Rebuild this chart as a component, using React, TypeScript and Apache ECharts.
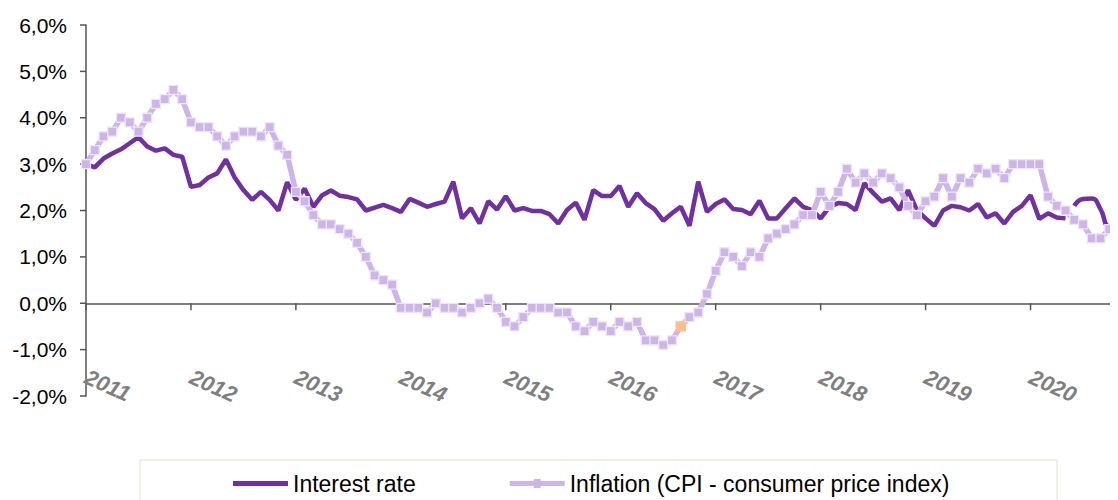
import React, { useEffect, useRef } from "react";
import * as echarts from "echarts";

const years = ["2011", "2012", "2013", "2014", "2015", "2016", "2017", "2018", "2019", "2020"];
const months = ["01", "02", "03", "04", "05", "06", "07", "08", "09", "10", "11", "12"];
const categories = years.flatMap((y) => months.map((m) => `${y}-${m}`)).slice(0, 119);
const yTicks = [-2, -1, 0, 1, 2, 3, 4, 5, 6];

// Interest rate (%), Jan 2011 .. May 2020
const interestRate = [
  3.0, 2.93, 3.12, 3.23, 3.32, 3.45, 3.58, 3.38, 3.29, 3.34, 3.2, 3.16,
  2.51, 2.55, 2.71, 2.8, 3.1, 2.71, 2.44, 2.23, 2.4, 2.23, 2.0, 2.61,
  2.23, 2.47, 2.08, 2.33, 2.43, 2.32, 2.29, 2.24, 2.0, 2.06, 2.12, 2.05,
  1.97, 2.25, 2.17, 2.08, 2.14, 2.19, 2.62, 1.83, 2.05, 1.72, 2.2, 2.02,
  2.31, 2.0, 2.05, 1.99, 1.99, 1.92, 1.72, 2.01, 2.17, 1.8, 2.44, 2.31,
  2.31, 2.53, 2.08, 2.37, 2.16, 2.03, 1.78, 1.94, 2.08, 1.67, 2.62, 1.97,
  2.14, 2.24, 2.03, 2.01, 1.92, 2.21, 1.83, 1.83, 2.05, 2.26, 2.08, 2.01,
  1.83, 2.08, 2.16, 2.14, 2.01, 2.59, 2.38, 2.19, 2.26, 2.01, 2.44, 2.01,
  1.83, 1.67, 2.0, 2.1, 2.07, 2.0, 2.14, 1.85, 1.94, 1.72, 1.97, 2.1,
  2.33, 1.82, 1.94, 1.85, 1.83,
];
// Interest rate tail (smoothed segment), Jun 2020 .. Nov 2020
const interestTailStart = 113;
const interestTail = [2.1, 2.25, 2.26, 2.03, 1.65, 1.64];

// Inflation (CPI), Jan 2011 .. Nov 2020
const inflation = [
  3.0, 3.3, 3.6, 3.7, 4.0, 3.9, 3.7, 4.0, 4.3, 4.4, 4.6, 4.4,
  3.9, 3.8, 3.8, 3.6, 3.4, 3.6, 3.7, 3.7, 3.6, 3.8, 3.4, 3.2,
  2.4, 2.2, 1.9, 1.7, 1.7, 1.6, 1.5, 1.3, 1.0, 0.6, 0.5, 0.4,
  -0.1, -0.1, -0.1, -0.2, 0.0, -0.1, -0.1, -0.2, -0.1, 0.0, 0.1, -0.1,
  -0.4, -0.5, -0.3, -0.1, -0.1, -0.1, -0.2, -0.2, -0.5, -0.6, -0.4, -0.5,
  -0.6, -0.4, -0.5, -0.4, -0.8, -0.8, -0.9, -0.8, -0.5, -0.3, -0.2, 0.2,
  0.7, 1.1, 1.0, 0.8, 1.1, 1.0, 1.4, 1.5, 1.6, 1.7, 1.9, 1.9,
  2.4, 2.1, 2.4, 2.9, 2.6, 2.8, 2.6, 2.8, 2.7, 2.5, 2.1, 1.9,
  2.2, 2.3, 2.7, 2.3, 2.7, 2.6, 2.9, 2.8, 2.9, 2.7, 3.0, 3.0,
  3.0, 3.0, 2.3, 2.1, 2.0, 1.8, 1.7, 1.4, 1.4, 1.6, 1.5,
];
const highlightIndex = 68;

const FONT = "'Liberation Sans', Arial, sans-serif";
const DARK = "#7030A0";
const LIGHT = "#CDB5E7";
const AXIS = "#555";

export default function App() {
  const ref = useRef<HTMLDivElement>(null);
  useEffect(() => {
    if (!ref.current) return;
    const chart = echarts.init(ref.current, undefined, { renderer: "svg" });
    const tailData = categories.map((_, i) =>
      i < interestTailStart ? null : interestTail[i - interestTailStart] ?? null
    );
    const inflData = inflation.map((v, i) =>
      i === highlightIndex
        ? { value: v, itemStyle: { color: "#F9BE8E", borderColor: "#F9BE8E" } }
        : v
    );
    const xTickData = categories
      .map((c, i) => (c.endsWith("-01") ? [i, 0] : null))
      .filter((d) => d !== null);
    const yTickData = yTicks.map((v) => [0, v]);

    chart.setOption({
      animation: false,
      textStyle: { fontFamily: FONT },
      grid: { left: 86, right: 0, top: 25, bottom: 104, containLabel: false },
      legend: {
        data: [
          { name: "Interest rate", icon: "path://M0,2H55V7H0Z" },
          {
            name: "Inflation (CPI - consumer price index)",
            icon: "path://M0,2H24V0H31V2H55V7H31V9H24V7H0Z",
          },
        ],
        left: 228,
        top: 467,
        itemWidth: 55,
        itemHeight: 9,
        itemGap: 94,
        itemStyle: { borderWidth: 0 },
        textStyle: { fontSize: 23, color: "#000", fontFamily: FONT },
      },
      graphic: [
        {
          type: "rect",
          shape: { x: 140, y: 460, width: 917, height: 60 },
          style: { fill: "none", stroke: "#E6E1CF", lineWidth: 1 },
          silent: true,
        },
      ],
      xAxis: [
        {
          type: "category",
          data: categories,
          boundaryGap: false,
          position: "bottom",
          axisLine: { show: false, onZero: false },
          axisTick: { show: false },
          axisLabel: {
            interval: 11,
            formatter: (v: string) => v.slice(0, 4),
            rotate: -24,
            margin: -20,
            color: "#7F7F7F",
            fontSize: 22,
            fontWeight: "bold",
            fontStyle: "italic",
            fontFamily: FONT,
          },
          splitLine: { show: false },
        },
        {
          type: "category",
          data: categories,
          boundaryGap: false,
          position: "bottom",
          axisLine: { show: true, onZero: true, lineStyle: { color: AXIS, width: 1.5 } },
          axisTick: { show: false },
          axisLabel: { show: false },
          splitLine: { show: false },
        },
      ],
      yAxis: {
        type: "value",
        min: -2,
        max: 6,
        interval: 1,
        axisLine: { show: true, onZero: false, lineStyle: { color: AXIS, width: 1.5 } },
        axisTick: { show: false },
        axisLabel: {
          margin: 19,
          color: "#000",
          fontSize: 21,
          fontFamily: FONT,
          formatter: (v: number) => v.toFixed(1).replace(".", ",") + "%",
        },
        splitLine: { show: false },
      },
      series: [
        {
          name: "xTicks",
          type: "custom",
          xAxisIndex: 1,
          data: xTickData,
          silent: true,
          z: 1,
          renderItem: (_params: any, api: any) => {
            const p = api.coord([api.value(0), api.value(1)]);
            return {
              type: "line",
              shape: { x1: p[0], y1: p[1], x2: p[0], y2: p[1] + 7 },
              style: { stroke: AXIS, lineWidth: 1.5 },
            };
          },
        },
        {
          name: "yTicks",
          type: "custom",
          xAxisIndex: 1,
          data: yTickData,
          silent: true,
          z: 1,
          renderItem: (_params: any, api: any) => {
            const p = api.coord([api.value(0), api.value(1)]);
            return {
              type: "line",
              shape: { x1: p[0] - 6, y1: p[1], x2: p[0], y2: p[1] },
              style: { stroke: AXIS, lineWidth: 1.5 },
            };
          },
        },
        {
          name: "Interest rate",
          type: "line",
          xAxisIndex: 1,
          data: interestRate,
          showSymbol: false,
          symbol: "none",
          lineStyle: { color: DARK, width: 4.5 },
          itemStyle: { color: DARK },
          z: 2,
        },
        {
          name: "Interest rate tail",
          type: "line",
          xAxisIndex: 1,
          data: tailData,
          smooth: true,
          symbol: "none",
          lineStyle: { color: DARK, width: 4.5 },
          itemStyle: { color: DARK },
          z: 2,
        },
        {
          name: "Inflation (CPI - consumer price index)",
          type: "line",
          xAxisIndex: 1,
          data: inflData,
          symbol: "rect",
          symbolSize: 9,
          showSymbol: true,
          showAllSymbol: true,
          lineStyle: { color: LIGHT, width: 5.5 },
          itemStyle: { color: LIGHT, borderColor: "#EEE6F8", borderWidth: 1.3 },
          z: 3,
        },
      ],
    });
    return () => chart.dispose();
  }, []);
  return <div ref={ref} style={{ width: 1118, height: 500, marginLeft: -8, marginTop: -8 }} />;
}
